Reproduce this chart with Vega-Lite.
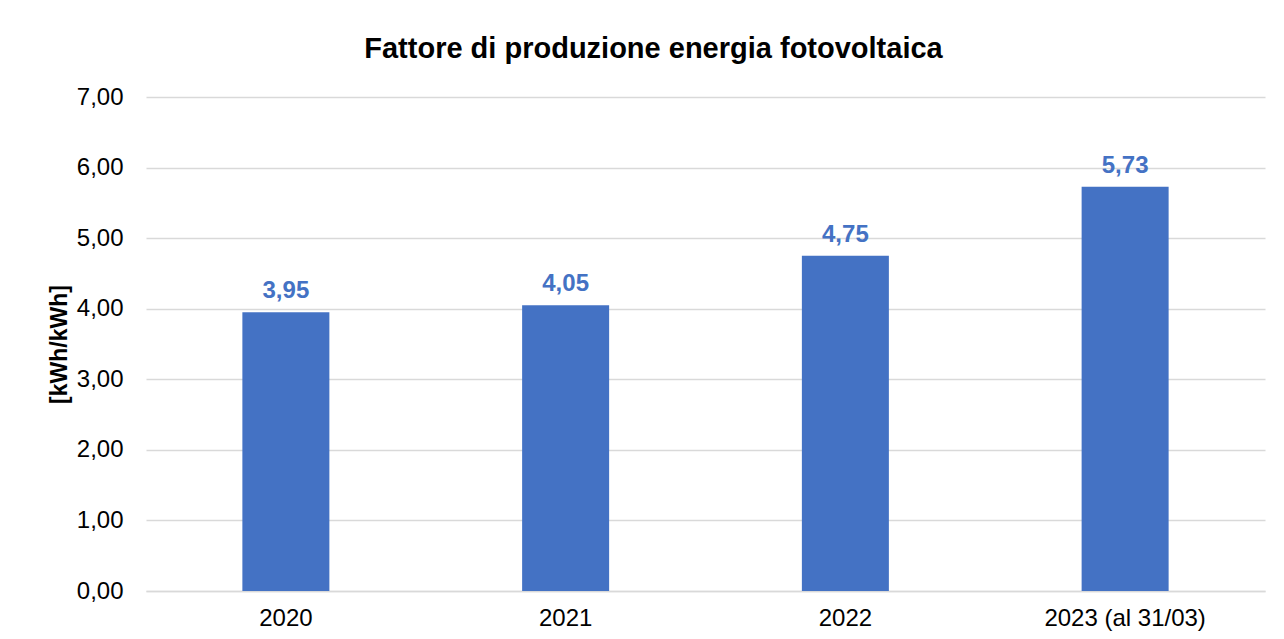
{
  "$schema": "https://vega.github.io/schema/vega-lite/v6.json",
  "autosize": {"type": "none"},
  "padding": {"left": 146, "top": 97, "right": 19, "bottom": 48},
  "width": 1119,
  "height": 494,
  "background": "white",
  "title": {
    "text": "Fattore di produzione energia fotovoltaica",
    "font": "Liberation Sans",
    "fontSize": 29,
    "fontWeight": "bold",
    "color": "#000000",
    "anchor": "middle",
    "dx": -52,
    "offset": 21
  },
  "data": {
    "values": [
      {"anno": "2020", "valore": 3.95},
      {"anno": "2021", "valore": 4.05},
      {"anno": "2022", "valore": 4.75},
      {"anno": "2023 (al 31/03)", "valore": 5.73}
    ]
  },
  "encoding": {
    "x": {
      "field": "anno",
      "type": "nominal",
      "sort": null,
      "scale": {"paddingInner": 0.689, "paddingOuter": 0.3445},
      "axis": {
        "title": null,
        "labelAngle": 0,
        "labelFont": "Liberation Sans",
        "labelFontSize": 24,
        "labelColor": "#000000",
        "labelPadding": 15,
        "ticks": false,
        "domainColor": "#D9D9D9",
        "domainWidth": 1.3
      }
    },
    "y": {
      "field": "valore",
      "type": "quantitative",
      "scale": {"domain": [0, 7], "nice": false},
      "axis": {
        "title": "[kWh/kWh]",
        "titleFont": "Liberation Sans",
        "titleFontSize": 23,
        "titleFontWeight": "bold",
        "titleColor": "#000000",
        "titlePadding": 5,
        "values": [0, 1, 2, 3, 4, 5, 6, 7],
        "labelExpr": "replace(format(datum.value, '.2f'), '.', ',')",
        "labelFont": "Liberation Sans",
        "labelFontSize": 24,
        "labelColor": "#000000",
        "labelPadding": 23,
        "ticks": false,
        "domain": false,
        "gridColor": "#D9D9D9",
        "gridWidth": 1.3
      }
    }
  },
  "layer": [
    {"mark": {"type": "bar", "color": "#4472C4"}},
    {
      "mark": {
        "type": "text",
        "baseline": "alphabetic",
        "dy": -14,
        "font": "Liberation Sans",
        "fontSize": 24,
        "fontWeight": "bold",
        "color": "#4472C4"
      },
      "encoding": {
        "text": {"field": "valore", "type": "quantitative", "format": ".2f"}
      }
    }
  ],
  "config": {
    "view": {"stroke": null},
    "locale": {"number": {"decimal": ",", "thousands": ".", "grouping": [3], "currency": ["", " €"]}}
  }
}
